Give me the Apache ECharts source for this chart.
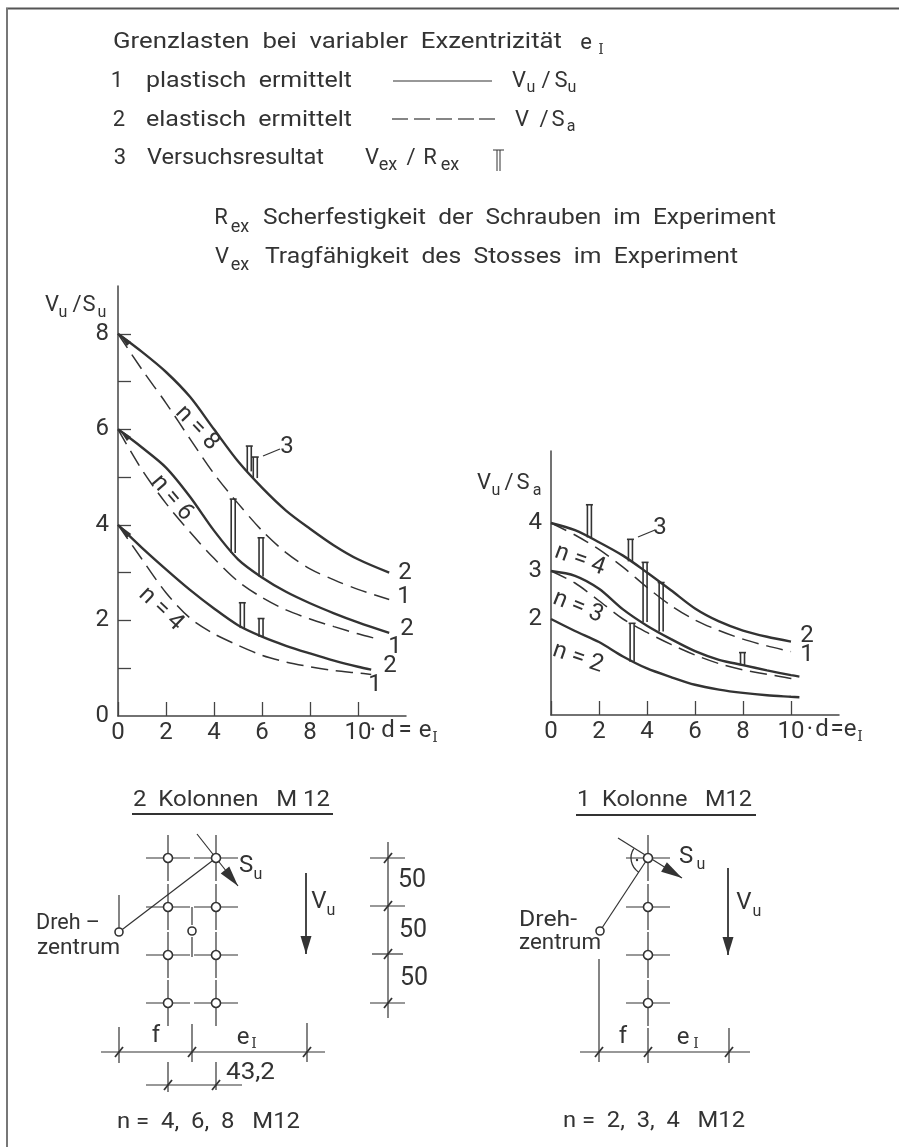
<!DOCTYPE html>
<html>
<head>
<meta charset="utf-8">
<style>
  html, body { margin: 0; padding: 0; background: #fff; }
  #main { width: 899px; height: 1147px; }
</style>
<script src="https://cdn.jsdelivr.net/npm/echarts@6/dist/echarts.min.js"></script>
</head>
<body>
<div id="main"></div>
<script>
// curve values: x = e_I / d, y = V_u / S_u (left), V_u / S_a (right)
var xTo11 = [0, 1, 2, 3, 4, 5, 6, 7, 8, 9, 10, 11.3];
var xTo109 = [0, 1, 2, 3, 4, 5, 6, 7, 8, 9, 10, 10.9];
var xTo105 = [0, 1, 2, 3, 4, 5, 6, 7, 8, 9, 10, 10.55];
var xTo10 = [0, 1, 2, 3, 4, 5, 6, 7, 8, 9, 10];
var xTo103 = [0, 1, 2, 3, 4, 5, 6, 7, 8, 9, 10, 10.35];

var plasticN8 = [8, 7.62, 7.2, 6.68, 6.0, 5.33, 4.78, 4.3, 3.92, 3.57, 3.28, 3.0];
var elasticN8 = [8, 7.25, 6.55, 5.8, 5.07, 4.45, 3.88, 3.42, 3.08, 2.85, 2.65, 2.44];
var plasticN6 = [6, 5.62, 5.2, 4.59, 3.88, 3.28, 2.9, 2.6, 2.36, 2.15, 1.96, 1.74];
var elasticN6 = [6, 5.15, 4.45, 3.85, 3.3, 2.82, 2.48, 2.22, 2.03, 1.87, 1.72, 1.6];
var plasticN4 = [4, 3.52, 3.07, 2.64, 2.25, 1.9, 1.66, 1.47, 1.31, 1.16, 1.03, 0.97];
var elasticN4 = [4, 3.28, 2.58, 2.05, 1.72, 1.48, 1.27, 1.13, 1.03, 0.95, 0.9, 0.87];

var rightPlasticN4 = [4, 3.85, 3.6, 3.32, 2.97, 2.6, 2.22, 1.95, 1.76, 1.63, 1.53];
var rightElasticN4 = [4, 3.75, 3.45, 3.08, 2.66, 2.28, 1.98, 1.76, 1.58, 1.44, 1.32];
var rightPlasticN3 = [3, 2.9, 2.63, 2.2, 1.86, 1.58, 1.33, 1.15, 1.04, 0.93, 0.83, 0.8];
var rightElasticN3 = [3, 2.75, 2.38, 2.0, 1.72, 1.47, 1.25, 1.07, 0.94, 0.85, 0.76, 0.74];
var rightPlasticN2 = [2, 1.75, 1.52, 1.22, 0.97, 0.79, 0.63, 0.53, 0.46, 0.41, 0.38, 0.37];

// test results: [e_I / d, low, high]
var testsLeft = [[5.47, 5.12, 5.65], [5.72, 4.98, 5.42], [4.8, 3.41, 4.54], [5.96, 2.92, 3.73], [5.18, 1.84, 2.37], [5.96, 1.66, 2.04]];
var testsRight = [[1.6, 3.7, 4.38], [3.31, 3.2, 3.66], [3.92, 1.94, 3.18], [4.59, 1.74, 2.76], [3.38, 1.11, 1.91], [7.98, 1.04, 1.3]];

// tick labels
var leftYLabels = [0, 2, 4, 6, 8];
var leftYTicks = [1, 2, 3, 4, 5, 6, 7, 8];
var rightYLabels = [2, 3, 4];
var xLabels = [0, 2, 4, 6, 8, 10];

// sheet drawing (sketch of the bolt groups, legend samples), in sheet units
var boltRows = [858, 907, 955, 1003];
var boltColsTwo = [168, 216];
var boltColsOne = [648];
var pivots = [[119, 932], [192, 931], [600, 931]];
var sheetLines = [
  [119, 932, 216, 858], [119, 895, 119, 928], [192, 907, 192, 925], [192, 937, 192, 957],
  [197, 834, 238, 886], [388, 842, 388, 1018], [370, 858, 405, 858], [370, 906, 405, 906], [372, 954, 403, 954], [370, 1003, 405, 1003],
  [101, 1052, 325, 1052], [119, 1027, 119, 1063], [192, 1024, 192, 1062], [307, 1023, 307, 1062],
  [146, 1085, 242, 1085], [168, 1062, 168, 1092], [216, 1062, 216, 1090],
  [600, 931, 648, 858], [618, 838, 682, 878],
  [580, 1052, 750, 1052], [599, 959, 599, 1062], [648, 1028, 648, 1063], [729, 1028, 729, 1063],
  [263, 456, 280, 449], [638, 537, 655, 530]
];
var verticalLoads = [[306, 873, 306, 954], [728, 868, 728, 955]];
var underlines = [[132, 814, 333, 814], [576, 815, 756, 815]];
var legendSolid = [[393, 81, 492, 81]];
var legendDashes = [[392, 119, 408, 119], [414, 119, 430, 119], [436, 119, 452, 119], [458, 119, 474, 119], [479, 119, 495, 119]];
var legendBar = [[497, 150, 497, 171], [500, 150, 500, 171], [493, 150, 504, 150]];
var slashMarks = [
  [388, 858], [388, 906], [388, 954], [388, 1003], [119, 1052], [192, 1052], [307, 1052],
  [168, 1085], [216, 1085], [599, 1052], [648, 1052], [729, 1052]
];
var arrowHeads = [[238, 886, 225, 870], [306, 954, 306, 936], [682, 878, 664, 867], [728, 955, 728, 937]];
var curveStartHeads = [[119, 334, 129, 344], [119, 429, 129, 439], [119, 525, 129, 536]];

var INK = "#333333";
var FONT = "Roboto";
var measure = document.createElement("canvas").getContext("2d");

function zip(xs, ys) {
  return ys.map(function (y, i) {
    return [xs[i], y];
  });
}

// text squeezed between x0 and x1, the original lettering is stencilled and wider
function fit(text, x0, x1, y, size) {
  measure.font = size + "px " + FONT;
  return {
    type: "text",
    x: x0,
    y: y,
    scaleX: (x1 - x0) / measure.measureText(text).width,
    style: { text: text, fontSize: size, fontFamily: FONT, fill: INK, align: "left", verticalAlign: "middle" },
    z: 20,
  };
}

function label(text, x, y, size, rotation) {
  return {
    type: "text",
    x: x,
    y: y,
    rotation: rotation || 0,
    style: { text: text, fontSize: size, fontFamily: FONT, fill: INK, align: "center", verticalAlign: "middle" },
    z: 20,
  };
}

function romanI(x, y) {
  return { type: "text", x: x, y: y, style: { text: "I", fontSize: 14, fontFamily: "DejaVu Serif", fill: INK, align: "center", verticalAlign: "middle" }, z: 20 };
}

function curve(name, xs, ys, axis, dashed) {
  return {
    name: name,
    type: "line",
    xAxisIndex: axis,
    yAxisIndex: axis,
    data: zip(xs, ys),
    smooth: 0.3,
    showSymbol: false,
    clip: false,
    lineStyle: dashed ? { color: INK, width: 1.5, type: [17, 8] } : { color: INK, width: 2.4 },
    z: dashed ? 3 : 4,
  };
}

function testBars(data, axis) {
  return {
    type: "custom",
    xAxisIndex: axis,
    yAxisIndex: axis,
    data: data,
    encode: { x: 0, y: [1, 2] },
    clip: false,
    z: 6,
    renderItem: function (params, api) {
      var top = api.coord([api.value(0), api.value(2)]);
      var low = api.coord([api.value(0), api.value(1)]);
      var st = { stroke: INK, lineWidth: 1.6 };
      return {
        type: "group",
        children: [
          { type: "line", shape: { x1: top[0] - 2, y1: top[1], x2: low[0] - 2, y2: low[1] }, style: st },
          { type: "line", shape: { x1: top[0] + 2, y1: top[1], x2: low[0] + 2, y2: low[1] }, style: st },
          { type: "line", shape: { x1: top[0] - 3.5, y1: top[1], x2: top[0] + 3.5, y2: top[1] }, style: st },
        ],
      };
    },
  };
}

function sheetSegments(data, width) {
  return {
    type: "custom",
    xAxisIndex: 2,
    yAxisIndex: 2,
    data: data,
    encode: { x: [0, 2], y: [1, 3] },
    clip: false,
    z: 8,
    renderItem: function (params, api) {
      var a = api.coord([api.value(0), api.value(1)]);
      var b = api.coord([api.value(2), api.value(3)]);
      return {
        type: "line",
        shape: { x1: a[0], y1: a[1], x2: b[0], y2: b[1] },
        style: { stroke: INK, lineWidth: width },
      };
    },
  };
}

function sheetCircles(data, size) {
  return {
    type: "scatter",
    xAxisIndex: 2,
    yAxisIndex: 2,
    data: data,
    symbol: "circle",
    symbolSize: size,
    clip: false,
    itemStyle: { color: "#fff", borderColor: INK, borderWidth: 1.6, opacity: 1 },
    z: 10,
  };
}

function sheetArrows(data, halfWidth) {
  return {
    type: "custom",
    xAxisIndex: 2,
    yAxisIndex: 2,
    data: data,
    encode: { x: [0, 2], y: [1, 3] },
    clip: false,
    z: 9,
    renderItem: function (params, api) {
      var tip = api.coord([api.value(0), api.value(1)]);
      var base = api.coord([api.value(2), api.value(3)]);
      var dx = tip[0] - base[0];
      var dy = tip[1] - base[1];
      var len = Math.sqrt(dx * dx + dy * dy);
      var nx = (-dy / len) * halfWidth;
      var ny = (dx / len) * halfWidth;
      return {
        type: "polygon",
        shape: { points: [tip, [base[0] + nx, base[1] + ny], [base[0] - nx, base[1] - ny]] },
        style: { fill: INK },
      };
    },
  };
}

// cross lines around every bolt, taken from the rows and columns above
var crossLines = [];
var bolts = [];
boltColsTwo.concat(boltColsOne).forEach(function (col) {
  boltRows.forEach(function (row) {
    bolts.push([col, row]);
    crossLines.push([col - 22, row, col + 22, row], [col, row - 23, col, row + 23]);
  });
});

var slashes = slashMarks.map(function (m) {
  return [m[0] - 4, m[1] + 5, m[0] + 4, m[1] - 5];
});

var texts = [
  fit("Grenzlasten  bei  variabler  Exzentrizität", 113, 562, 42, 22),
  label("e", 586, 43, 22),
  romanI(601, 50),

  label("1", 117, 81, 22),
  fit("plastisch  ermittelt", 146, 352, 81, 22),
  label("V", 519, 81, 22), label("u", 531, 88, 16), label("/", 546, 81, 22), label("S", 561, 81, 22), label("u", 572, 88, 16),

  label("2", 119, 120, 22),
  fit("elastisch  ermittelt", 146, 352, 120, 22),
  label("V", 522, 120, 22), label("/", 544, 120, 22), label("S", 558, 120, 22), label("a", 571, 127, 16),

  label("3", 120, 158, 22),
  fit("Versuchsresultat", 147, 324, 158, 22),
  label("V", 372, 158, 22), label("ex", 388, 165, 18), label("/", 411, 158, 22), label("R", 430, 158, 22), label("ex", 450, 165, 18),

  label("R", 221, 218, 22), label("ex", 240, 227, 18),
  fit("Scherfestigkeit  der  Schrauben  im  Experiment", 263, 776, 218, 22),
  label("V", 222, 257, 22), label("ex", 240, 265, 18),
  fit("Tragfähigkeit  des  Stosses  im  Experiment", 265, 738, 257, 22),

  // left chart
  label("V", 52, 305, 22), label("u", 63, 313, 16), label("/", 77, 305, 22), label("S", 89, 305, 22), label("u", 102, 313, 16),
  label("·", 373, 731, 24), label("d", 388, 731, 24), label("=", 405, 731, 24), label("e", 425, 731, 24), romanI(435, 738),
  label("n = 8", 197, 428, 24, -0.81), label("n = 6", 172, 498, 24, -0.87), label("n = 4", 161, 609, 24, -0.76),
  label("2", 405, 573, 24), label("1", 404, 597, 24), label("2", 407, 629, 24), label("1", 395, 647, 24), label("2", 390, 666, 24), label("1", 375, 685, 24),
  label("3", 287, 447, 24),

  // right chart
  label("V", 484, 483, 22), label("u", 496, 491, 16), label("/", 509, 483, 22), label("S", 523, 483, 22), label("a", 537, 491, 16),
  label("·", 810, 730, 24), label("d", 822, 730, 24), label("=", 837, 730, 24), label("e", 850, 730, 24), romanI(860, 737),
  label("n = 4", 580, 560, 24, -0.35), label("n = 3", 578, 607, 24, -0.38), label("n = 2", 578, 658, 24, -0.33),
  label("2", 807, 636, 24), label("1", 807, 655, 24),
  label("3", 660, 528, 24),

  // two column sketch
  fit("2  Kolonnen   M 12", 133, 330, 800, 22),
  label("S", 246, 866, 24), label("u", 258, 875, 16),
  label("V", 319, 902, 24), label("u", 331, 911, 16),
  label("50", 412, 881, 25), label("50", 413, 931, 25), label("50", 414, 979, 25),
  fit("Dreh –", 36, 100, 923, 22),
  fit("zentrum", 37, 120, 948, 22),
  label("f", 156, 1036, 24), label("e", 243, 1038, 24), romanI(254, 1044),
  fit("43,2", 226, 275, 1073, 24),
  fit("n =  4,  6,  8   M12", 117, 300, 1122, 22),

  // one column sketch
  fit("1  Kolonne   M12", 577, 752, 800, 22),
  label("S", 686, 857, 24), label("u", 701, 865, 16),
  label("V", 744, 903, 24), label("u", 757, 912, 16),
  fit("Dreh-", 519, 577, 920, 22),
  fit("zentrum", 519, 601, 943, 22),
  label("f", 623, 1037, 24), label("e", 683, 1038, 24), romanI(696, 1044),
  fit("n =  2,  3,  4   M12", 563, 745, 1121, 22),
];

// the scan only shows the top and left edge of the frame
var frameTop = { type: "line", shape: { x1: 6, y1: 8.5, x2: 899, y2: 8.5 }, style: { stroke: "#555", lineWidth: 2 }, z: 1 };
var frameLeft = { type: "line", shape: { x1: 7, y1: 8, x2: 7, y2: 1147 }, style: { stroke: "#777", lineWidth: 2 }, z: 1 };
var rightAngle = {
  type: "arc",
  shape: { cx: 648, cy: 858, r: 17, startAngle: 2.15, endAngle: 3.73 },
  style: { stroke: INK, lineWidth: 1.3, fill: null },
  z: 9,
};
var rightAngleDot = { type: "circle", shape: { cx: 637, cy: 860, r: 1.2 }, style: { fill: INK }, z: 9 };

function axisLabelStyle() {
  return { color: INK, fontSize: 24, fontFamily: FONT };
}

function xAxisFor(gridIndex) {
  return {
    type: "value",
    gridIndex: gridIndex,
    min: 0,
    max: 12,
    interval: 2,
    splitLine: { show: false },
    axisLine: { onZero: false, lineStyle: { color: "#444", width: 1.5 } },
    axisTick: { show: true, inside: true, length: 14, customValues: xLabels, lineStyle: { color: "#444", width: 1.3 } },
    axisLabel: Object.assign({ margin: 5, customValues: xLabels, showMinLabel: true, showMaxLabel: true }, axisLabelStyle()),
  };
}

var chart = echarts.init(document.getElementById("main"), null, { renderer: "canvas" });
chart.setOption({
  animation: false,
  backgroundColor: "#fff",
  graphic: { elements: [frameTop, frameLeft, rightAngle, rightAngleDot].concat(texts) },
  grid: [
    { left: 118, top: 286, width: 288, height: 430 },
    { left: 551, top: 451, width: 288, height: 264 },
    { left: 0, top: 0, width: 899, height: 1147 },
  ],
  xAxis: [
    xAxisFor(0),
    xAxisFor(1),
    { type: "value", gridIndex: 2, min: 0, max: 899, show: false },
  ],
  yAxis: [
    {
      type: "value",
      gridIndex: 0,
      min: 0,
      max: 9,
      interval: 1,
      splitLine: { show: false },
      axisLine: { onZero: false, lineStyle: { color: "#444", width: 1.5 } },
      axisTick: { show: true, inside: true, length: 13, customValues: leftYTicks, lineStyle: { color: "#444", width: 1.3 } },
      axisLabel: Object.assign({ margin: 9, customValues: leftYLabels }, axisLabelStyle()),
    },
    {
      type: "value",
      gridIndex: 1,
      min: 0,
      max: 5.5,
      interval: 1,
      splitLine: { show: false },
      axisLine: { onZero: false, lineStyle: { color: "#444", width: 1.5 } },
      axisTick: { show: false },
      axisLabel: Object.assign({ margin: 9, customValues: rightYLabels }, axisLabelStyle()),
    },
    { type: "value", gridIndex: 2, min: 0, max: 1147, inverse: true, show: false },
  ],
  series: [
    curve("n=8 plastisch", xTo11, plasticN8, 0, false),
    curve("n=8 elastisch", xTo11, elasticN8, 0, true),
    curve("n=6 plastisch", xTo11, plasticN6, 0, false),
    curve("n=6 elastisch", xTo109, elasticN6, 0, true),
    curve("n=4 plastisch", xTo105, plasticN4, 0, false),
    curve("n=4 elastisch", xTo105, elasticN4, 0, true),
    testBars(testsLeft, 0),

    curve("n=4 plastisch", xTo10, rightPlasticN4, 1, false),
    curve("n=4 elastisch", xTo10, rightElasticN4, 1, true),
    curve("n=3 plastisch", xTo103, rightPlasticN3, 1, false),
    curve("n=3 elastisch", xTo103, rightElasticN3, 1, true),
    curve("n=2 plastisch", xTo103, rightPlasticN2, 1, false),
    testBars(testsRight, 1),

    sheetSegments(crossLines.concat(sheetLines, legendSolid, legendDashes), 1.2),
    sheetSegments(legendBar, 1),
    sheetSegments(verticalLoads.concat(underlines, slashes), 1.8),
    sheetArrows(arrowHeads, 5.5),
    sheetArrows(curveStartHeads, 3),
    sheetCircles(bolts, 9),
    sheetCircles(pivots, 8),
  ],
});
</script>
</body>
</html>
